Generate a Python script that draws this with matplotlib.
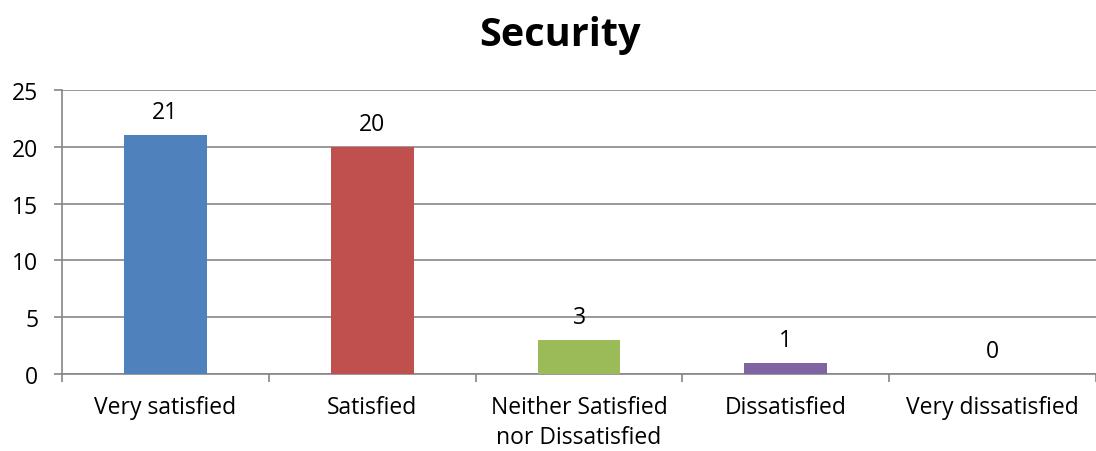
import matplotlib.pyplot as plt
import numpy as np

# Survey results for the "Security" question
categories = ['Very satisfied', 'Satisfied', 'Neither Satisfied\nnor Dissatisfied',
              'Dissatisfied', 'Very dissatisfied']
counts = [21, 20, 3, 1, 0]
colors = ['#4F81BD', '#C0504D', '#9BBB59', '#8064A2', '#4BACC6']
y_ticks = [0, 5, 10, 15, 20, 25]

plt.rcParams['font.family'] = ['Open Sans', 'DejaVu Sans']
grid_col = '#868686'

fig = plt.figure(figsize=(10.96, 4.52), dpi=100)
ax = fig.add_axes([0.0566, 0.1704, 0.9434, 0.6283])

x = np.arange(len(categories))
bars = ax.bar(x, counts, width=0.4, color=colors, zorder=3)

# value labels above each bar
for xi, val in zip(x, counts):
    ax.annotate(str(val), (xi, val), xytext=(0, 8), textcoords='offset points',
                ha='center', va='bottom', fontsize=16.5)

ax.set_xlim(-0.5, len(categories) - 0.5)
ax.set_ylim(0, 25)
ax.set_yticks(y_ticks)
ax.yaxis.grid(True, color=grid_col, linewidth=1.2, zorder=0)

ax.set_xticks(x)
ax.set_xticklabels(categories, fontsize=16.5, linespacing=1.35)
ax.set_xticks(np.arange(-0.5, len(categories)), minor=True)
ax.tick_params(axis='x', which='major', length=0, pad=15)
ax.tick_params(axis='x', which='minor', length=6, width=1.2, color=grid_col, direction='out')
ax.tick_params(axis='y', length=6, width=1.2, color=grid_col, labelsize=16.5, pad=11)

for s in ['top', 'right']:
    ax.spines[s].set_visible(False)
for s in ['left', 'bottom']:
    ax.spines[s].set_color(grid_col)
    ax.spines[s].set_linewidth(1.2)

fig.suptitle('Security', fontsize=28.5, fontweight='bold', x=0.511, y=0.965)

fig.savefig('out.png', dpi=100)
